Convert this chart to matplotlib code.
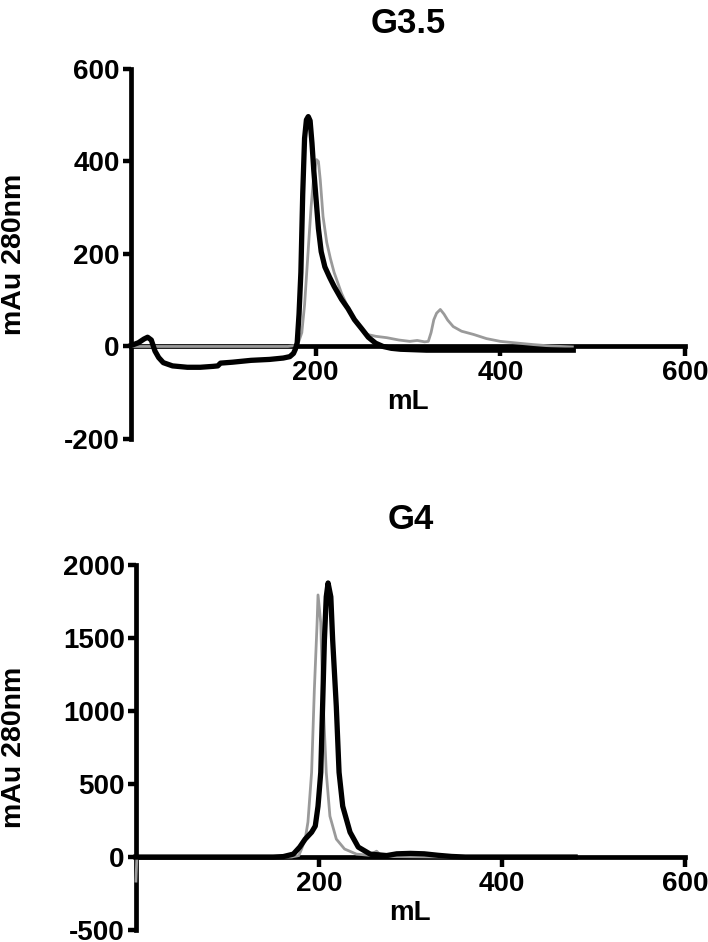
import matplotlib
matplotlib.use("Agg")
import matplotlib.pyplot as plt
from matplotlib.transforms import blended_transform_factory

plt.rcParams['font.family'] = ['Liberation Sans', 'DejaVu Sans']
plt.rcParams['font.weight'] = 'bold'
plt.rcParams['axes.unicode_minus'] = False

GREY = '#9a9a9a'

# G3.5 - black trace (mL, mAu)
g35_black_x = [0, 8, 14, 18, 22, 26, 30, 35, 45, 61, 75, 89, 94, 97, 110, 130, 150, 165, 172, 176,
               178, 180, 182, 184, 186, 188, 190, 192, 194, 196, 198, 200, 203, 206, 210, 215, 220,
               228, 235, 242, 250, 257, 265, 273, 282, 292, 320, 360, 400, 440, 479]
g35_black_y = [2, 8, 16, 20, 14, -10, -24, -35, -42, -45, -45, -43, -42, -36, -34, -30, -28, -25, -22, -15,
               -6, 8, 70, 160, 330, 450, 490, 497, 488, 440, 380, 330, 255, 205, 172, 150, 130,
               102, 82, 58, 38, 20, 7, 0, -4, -6, -8, -8, -8, -8, -8]

# G3.5 - grey trace
g35_grey_x = [0, 170, 178, 182, 185, 188, 192, 195, 198, 201, 203, 205, 208, 212, 216, 220, 228, 236,
              244, 250, 256, 265, 277, 290, 302, 310, 318, 322, 325, 328, 331, 335, 339, 343, 349, 358,
              371, 385, 400, 420, 436, 455, 478]
g35_grey_y = [0, 0, 2, 12, 30, 90, 210, 300, 370, 404, 400, 360, 281, 225, 190, 160, 115, 80,
              52, 36, 26, 22, 19, 14, 11, 13, 10, 11, 30, 58, 72, 80, 70, 57, 43, 33,
              26, 17, 11, 7, 4, 1, -1]

# G4 - black trace
g4_black_x = [0, 150, 161, 172, 179, 185, 192, 196, 199, 202, 204, 206, 208, 210, 213, 215, 219,
              222, 226, 234, 243, 256, 274, 285, 300, 315, 330, 345, 360, 420, 480]
g4_black_y = [0, 0, 3, 20, 68, 123, 170, 212, 348, 580, 1030, 1488, 1782, 1877, 1782, 1488, 1030,
              580, 348, 170, 68, 20, 10, 22, 25, 22, 12, 4, 0, 0, 0]

# G4 - grey trace
g4_grey_x = [0, 1, 170, 178, 181, 185, 188, 192, 195, 198, 199, 202, 204, 208, 212, 219, 228, 241,
             255, 263, 268, 280, 350, 420, 480]
g4_grey_y = [-165, 0, 0, 10, 55, 123, 240, 580, 1147, 1604, 1795, 1604, 1147, 580, 280, 123, 55, 20,
             12, 40, 10, 3, 0, 0, 0]

panels = [
    dict(title='G3.5', rect=[0.185, 0.534, 0.7825, 0.3928], ylim=(-200, 600),
         yticks=[-200, 0, 200, 400, 600], ylab_x=-0.188,
         grey=(g35_grey_x, g35_grey_y), black=(g35_black_x, g35_black_y)),
    dict(title='G4', rect=[0.192, 0.0127, 0.7754, 0.3875], ylim=(-500, 2000),
         yticks=[-500, 0, 500, 1000, 1500, 2000], ylab_x=-0.198,
         grey=(g4_grey_x, g4_grey_y), black=(g4_black_x, g4_black_y)),
]

fig = plt.figure(figsize=(7.08, 9.42), dpi=100)

for p in panels:
    ax = fig.add_axes(p['rect'])
    ax.plot(*p['grey'], color=GREY, lw=2.0, zorder=3, clip_on=False, solid_joinstyle='round')
    ax.plot(*p['black'], color='black', lw=3.8, zorder=4, clip_on=False, solid_joinstyle='round')

    ax.set_xlim(0, 600)
    ax.set_ylim(*p['ylim'])
    ax.set_xticks([200, 400, 600])
    ax.set_yticks(p['yticks'])

    for s in ['top', 'right']:
        ax.spines[s].set_visible(False)
    ax.spines['bottom'].set_position(('data', 0))
    for s in ['left', 'bottom']:
        ax.spines[s].set_linewidth(3.4)
        ax.spines[s].set_capstyle('projecting')

    ax.tick_params(axis='y', length=6, width=3.2, pad=2, labelsize=20)
    ax.tick_params(axis='x', length=7, width=3.2, pad=3, labelsize=20)
    for lab in ax.get_xticklabels() + ax.get_yticklabels():
        lab.set_fontweight('bold')

    ax.set_title(p['title'], fontsize=25, fontweight='bold', pad=26)
    ax.set_ylabel('mAu 280nm', fontsize=20.5, fontweight='bold')
    ax.yaxis.set_label_coords(p['ylab_x'], 0.5)
    ax.annotate('mL', xy=(0.5, 0),
                xycoords=blended_transform_factory(ax.transAxes, ax.transData),
                xytext=(0, -40), textcoords='offset points', ha='center', va='center',
                fontsize=20, fontweight='bold')

fig.savefig('out.png', dpi=100)
